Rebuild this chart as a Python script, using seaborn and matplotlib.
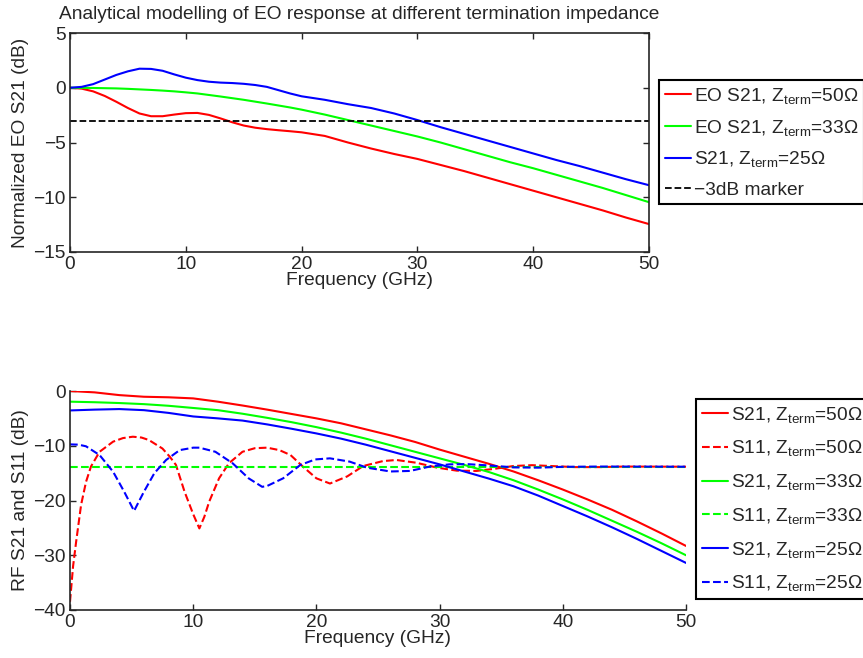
import matplotlib
matplotlib.use("Agg")
import matplotlib.pyplot as plt
import pandas as pd
import seaborn as sns
from matplotlib.lines import Line2D

# ---------------- data ----------------
# Electro-optic response (top panel), frequency in GHz, response in dB
freq_eo = [0, 1, 2, 3, 4, 5, 6, 7, 8, 9, 10, 11, 12, 13, 14, 15, 16, 17, 18, 19, 20,
           22, 24, 26, 28, 30, 32, 34, 36, 38, 40, 42, 44, 46, 48, 50]
eo_50 = [0, -0.08, -0.33, -0.75, -1.28, -1.85, -2.35, -2.6, -2.6, -2.45, -2.32, -2.3,
         -2.48, -2.8, -3.15, -3.45, -3.65, -3.78, -3.88, -3.97, -4.07,
         -4.4, -5.0, -5.55, -6.05, -6.5, -7.05, -7.6, -8.2, -8.8, -9.4, -10.0, -10.6,
         -11.2, -11.85, -12.45]
eo_33 = [0, -0.01, -0.02, -0.04, -0.06, -0.1, -0.15, -0.2, -0.26, -0.33, -0.42, -0.52,
         -0.66, -0.8, -0.95, -1.1, -1.27, -1.44, -1.62, -1.8, -2.0,
         -2.45, -2.95, -3.45, -3.95, -4.45, -5.0, -5.6, -6.2, -6.8, -7.35, -7.95, -8.55,
         -9.15, -9.8, -10.45]
eo_25 = [0, 0.08, 0.33, 0.75, 1.17, 1.5, 1.74, 1.72, 1.55, 1.22, 0.92, 0.7,
         0.55, 0.47, 0.43, 0.36, 0.25, 0.08, -0.22, -0.52, -0.78,
         -1.1, -1.5, -1.85, -2.35, -2.95, -3.6, -4.2, -4.8, -5.4, -6.0, -6.6, -7.15,
         -7.75, -8.35, -8.9]
marker_freq = [0, 50]
marker_level = [-3, -3]

# RF transmission (bottom panel)
freq_rf = [0, 2, 4, 6, 8, 10, 12, 14, 16, 18, 20, 22, 24, 26, 28, 30, 32, 34, 36, 38,
           40, 42, 44, 46, 48, 50]
s21_50 = [0, -0.25, -0.75, -1.05, -1.15, -1.35, -1.95, -2.65, -3.4, -4.2, -5.0, -5.9,
          -7.0, -8.1, -9.3, -10.7, -12.0, -13.3, -14.7, -16.3, -18.0, -19.8, -21.7,
          -23.8, -26.0, -28.3]
s21_33 = [-1.95, -2.05, -2.2, -2.4, -2.7, -3.1, -3.5, -4.15, -4.9, -5.7, -6.6, -7.6,
          -8.7, -9.9, -11.1, -12.3, -13.5, -14.8, -16.3, -18.0, -19.8, -21.7, -23.7,
          -25.7, -27.8, -30.0]
s21_25 = [-3.55, -3.4, -3.3, -3.5, -4.0, -4.65, -5.0, -5.4, -6.1, -6.9, -7.75, -8.7,
          -9.8, -11.0, -12.2, -13.4, -14.7, -16.0, -17.4, -19.1, -21.0, -22.9, -24.9,
          -27.0, -29.2, -31.4]

# RF reflection (bottom panel)
freq_s11_50 = [0, 0.25, 0.5, 0.9, 1.3, 1.7, 2.4, 3.5, 4.3, 5.1, 5.8, 6.4, 7.5, 8.1,
               8.6, 9.3, 10.0, 10.5, 10.9, 11.3, 12.1, 12.9, 14.0, 15.0, 16.0, 17.0,
               17.9, 18.9, 20.0, 21.1, 22.5, 23.8, 25.4, 26.5, 28.1, 29.8, 31.4, 33.0,
               34.5, 36.0, 37.5, 39.0, 41.0, 43.0, 45.0, 50.0]
s11_50 = [-38.5, -32.0, -27.5, -20.8, -16.6, -13.8, -11.1, -9.25, -8.6, -8.35, -8.5,
          -8.95, -10.5, -12.0, -13.5, -18.4, -22.5, -25.1, -23.0, -20.2, -15.95, -13.2,
          -11.1, -10.45, -10.35, -10.8, -11.7, -13.8, -15.95, -16.9, -15.6, -13.7,
          -12.8, -12.6, -13.1, -14.0, -14.55, -14.6, -14.2, -13.7, -13.55, -13.7,
          -13.9, -13.9, -13.8, -13.83]
freq_s11_33 = [0, 50]
s11_33 = [-13.83, -13.83]
freq_s11_25 = [0, 0.7, 1.3, 2.4, 3.5, 4.4, 5.2, 6.0, 6.85, 7.8, 8.9, 10.0, 10.5, 11.8,
               13.2, 14.5, 15.6, 16.0, 17.3, 18.7, 19.9, 21.1, 22.7, 24.1, 26.0, 27.6,
               29.2, 30.8, 32.2, 34.0, 36.0, 38.0, 40.0, 43.0, 50.0]
s11_25 = [-9.75, -9.8, -10.1, -11.7, -14.75, -18.4, -21.9, -18.4, -15.0, -12.6, -10.8,
          -10.35, -10.35, -11.1, -13.2, -15.95, -17.5, -17.35, -15.95, -13.5, -12.5,
          -12.3, -12.9, -14.0, -14.7, -14.6, -13.8, -13.4, -13.35, -13.6, -13.95,
          -14.0, -13.85, -13.8, -13.83]

eo_labels = [r"EO S21, Z$_{\mathrm{term}}$=50Ω", r"EO S21, Z$_{\mathrm{term}}$=33Ω",
             r"S21, Z$_{\mathrm{term}}$=25Ω", "\u22123dB marker"]
rf_labels = [r"S21, Z$_{\mathrm{term}}$=50Ω", r"S11, Z$_{\mathrm{term}}$=50Ω",
             r"S21, Z$_{\mathrm{term}}$=33Ω", r"S11, Z$_{\mathrm{term}}$=33Ω",
             r"S21, Z$_{\mathrm{term}}$=25Ω", r"S11, Z$_{\mathrm{term}}$=25Ω"]

RED, GREEN, BLUE = "#ff0000", "#00ff00", "#0000ff"

# ---------------- style ----------------
sns.set_style("ticks")
plt.rcParams["font.family"] = ["Liberation Sans", "DejaVu Sans"]
plt.rcParams["mathtext.fontset"] = "custom"
plt.rcParams["mathtext.rm"] = "Liberation Sans"
plt.rcParams["mathtext.it"] = "Liberation Sans:italic"
plt.rcParams["mathtext.bf"] = "Liberation Sans:bold"
plt.rcParams["axes.unicode_minus"] = True
FS = 13.75

fig = plt.figure(figsize=(8.63, 6.58), dpi=100)
W, H = 863.0, 658.0
ax1 = fig.add_axes([70 / W, 1 - 252 / H, 579 / W, 219 / H])
ax2 = fig.add_axes([70 / W, 1 - 610 / H, 616 / W, 219 / H])

LW = 1.5

# ---------------- top panel ----------------
for y, c in [(eo_50, RED), (eo_33, GREEN), (eo_25, BLUE)]:
    sns.lineplot(x=freq_eo, y=y, ax=ax1, color=c, linewidth=LW, legend=False)
sns.lineplot(x=marker_freq, y=marker_level, ax=ax1, color="black", linewidth=1.3,
             linestyle="--", legend=False)

ax1.set_xlim(0, 50)
ax1.set_ylim(-15, 5)
ax1.set_xticks(range(0, 51, 10))
ax1.set_yticks(range(-15, 6, 5))
ax1.set_title("Analytical modelling of EO response at different termination impedance",
              fontsize=FS, pad=10)
ax1.set_xlabel("Frequency (GHz)", fontsize=FS, labelpad=-1)
ax1.set_ylabel("Normalized EO S21 (dB)", fontsize=FS)
ax1.tick_params(direction="in", top=True, right=True, length=4, width=1,
                labelsize=FS, pad=3)
for s in ax1.spines.values():
    s.set_linewidth(1.2)

h1 = [Line2D([], [], color=RED, lw=LW), Line2D([], [], color=GREEN, lw=LW),
      Line2D([], [], color=BLUE, lw=LW),
      Line2D([], [], color="black", lw=1.3, ls="--")]
leg1 = ax1.legend(h1, eo_labels, loc="upper left", bbox_to_anchor=(659 / W, 1 - 80 / H),
                  bbox_transform=fig.transFigure, borderaxespad=0, fontsize=FS,
                  frameon=True, fancybox=False, edgecolor="black", framealpha=1,
                  handlelength=1.4, handletextpad=0.12, labelspacing=0.62,
                  borderpad=0.3)
leg1.get_frame().set_linewidth(1.5)

# ---------------- bottom panel ----------------
sns.lineplot(x=freq_rf, y=s21_50, ax=ax2, color=RED, linewidth=LW, legend=False)
sns.lineplot(x=freq_s11_50, y=s11_50, ax=ax2, color=RED, linewidth=LW, linestyle="--",
             legend=False)
sns.lineplot(x=freq_rf, y=s21_33, ax=ax2, color=GREEN, linewidth=LW, legend=False)
sns.lineplot(x=freq_s11_33, y=s11_33, ax=ax2, color=GREEN, linewidth=LW, linestyle="--",
             legend=False)
sns.lineplot(x=freq_rf, y=s21_25, ax=ax2, color=BLUE, linewidth=LW, legend=False)
sns.lineplot(x=freq_s11_25, y=s11_25, ax=ax2, color=BLUE, linewidth=LW, linestyle="--",
             legend=False)

ax2.set_xlim(0, 50)
ax2.set_ylim(-40, 0)
ax2.set_xticks(range(0, 51, 10))
ax2.set_yticks(range(-40, 1, 10))
ax2.set_xlabel("Frequency (GHz)", fontsize=FS, labelpad=-1)
ax2.set_ylabel("RF S21 and S11 (dB)", fontsize=FS)
ax2.tick_params(direction="in", length=4, width=1, labelsize=FS, pad=3)
sns.despine(ax=ax2)
for s in ax2.spines.values():
    s.set_linewidth(1.2)

h2 = []
for c in (RED, GREEN, BLUE):
    h2.append(Line2D([], [], color=c, lw=LW))
    h2.append(Line2D([], [], color=c, lw=LW, ls="--"))
leg2 = ax2.legend(h2, rf_labels, loc="upper left", bbox_to_anchor=(696 / W, 1 - 399 / H),
                  bbox_transform=fig.transFigure, borderaxespad=0, fontsize=FS,
                  frameon=True, fancybox=False, edgecolor="black", framealpha=1,
                  handlelength=1.4, handletextpad=0.12, labelspacing=0.72,
                  borderpad=0.3)
leg2.get_frame().set_linewidth(1.5)

# vertical axis labels: right edge of the rotated text sits a few pixels off the figure edge
ax1.yaxis.set_label_coords((29 - 70) / 579, 0.5)
ax2.yaxis.set_label_coords((29 - 70) / 616, 0.5)

fig.savefig("out.png", dpi=100)
